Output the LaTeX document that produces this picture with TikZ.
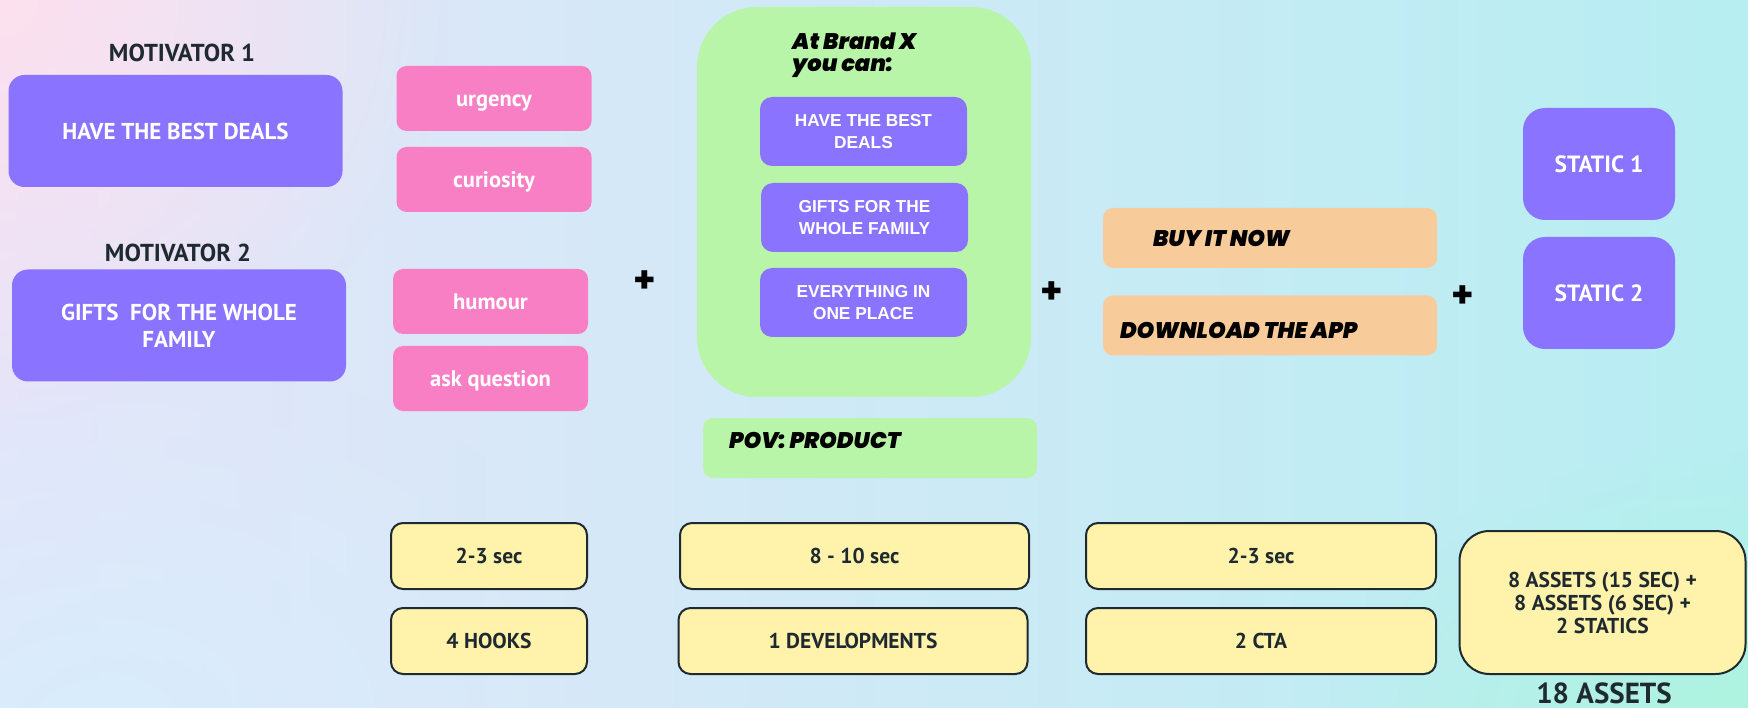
\documentclass[tikz,border=0pt]{standalone}
\usepackage{fontspec}
\usetikzlibrary{fadings}
\setmainfont{PT Sans}
\newfontfamily\capsfont{Liberation Sans}
\newfontfamily\heavyfont{Poppins}[BoldItalicFont={Poppins Black Italic}]

\definecolor{motpurple}{HTML}{8A74FF}
\definecolor{hookpink}{HTML}{F97FC5}
\definecolor{devgreen}{HTML}{B9F5A8}
\definecolor{ctapeach}{HTML}{F8CB9B}
\definecolor{timeyellow}{HTML}{FFF2AA}
\definecolor{inkdark}{HTML}{1F2A30}
\definecolor{bgleft}{HTML}{E6E5FA}
\definecolor{bgmid}{HTML}{CDEEFB}
\definecolor{bgright}{HTML}{B6EEF2}
\definecolor{bgpink}{HTML}{FDE0EE}
\definecolor{bgblue}{HTML}{D8EDFC}
\definecolor{bgmint}{HTML}{ADF4DE}
\tikzfading[name=glowout, inner color=transparent!0, outer color=transparent!100]

\begin{document}
\begin{tikzpicture}[x=1pt,y=-1pt,
  lbl/.style={font=\fontsize{24.5}{28}\selectfont\bfseries, text=inkdark},
  motbox/.style={fill=motpurple, rounded corners=16pt, text=white, align=center,
    font=\fontsize{23}{27}\selectfont\bfseries, minimum width=334pt, minimum height=112pt},
  hookbox/.style={fill=hookpink, rounded corners=10pt, text=white, text height=20pt, text depth=3pt,
    font=\fontsize{22.5}{26}\selectfont\bfseries, minimum width=195pt, minimum height=65pt},
  devbox/.style={fill=motpurple, rounded corners=12pt, text=white, align=center,
    font=\capsfont\fontsize{17.3}{22}\selectfont\bfseries, minimum width=207pt, minimum height=69pt},
  ctabox/.style={fill=ctapeach, rounded corners=10pt, minimum width=334pt, minimum height=60pt},
  heavy/.style={font=\heavyfont\fontsize{22.5}{22}\selectfont\bfseries\itshape, text=black, inner sep=0pt},
  statbox/.style={fill=motpurple, rounded corners=22pt, text=white,
    font=\fontsize{23.5}{26}\selectfont\bfseries, minimum width=152pt, minimum height=112pt},
  timebox/.style={fill=timeyellow, draw=inkdark, line width=2pt, rounded corners=12pt, text=inkdark,
    align=center, font=\fontsize{21.5}{23}\selectfont\bfseries, minimum height=66pt},
  plus/.style={font=\heavyfont\fontsize{36}{36}\selectfont\bfseries, text=black, inner sep=0pt}]

% background
\useasboundingbox (0,0) rectangle (1748,708);
\shade[left color=bgleft, middle color=bgmid, right color=bgright] (0,0) rectangle (1748,708);
\fill[bgblue, path fading=glowout] (-450,350) rectangle (650,1100);
\fill[bgpink, path fading=glowout] (-450,-420) rectangle (450,420);
\fill[bgmint, path fading=glowout] (1300,450) rectangle (2200,1000);

% motivators
\node[lbl] (mot1) at (182,53) {MOTIVATOR 1};
\node[motbox] (deals) at (175.5,131) {HAVE THE BEST DEALS};
\node[lbl] (mot2) at (178,253) {MOTIVATOR 2};
\node[motbox] (gifts) at (179,325.5) {GIFTS\ \ FOR THE WHOLE\\FAMILY};

% hooks
\node[hookbox] (urgency) at (494,98.5) {urgency};
\node[hookbox] (curiosity) at (494,179.5) {curiosity};
\node[hookbox] (humour) at (490.5,301.5) {humour};
\node[hookbox] (question) at (490.5,378.5) {ask question};
\node[plus] (plusa) at (645,282) {+};

% development
\node[fill=devgreen, rounded corners=60pt, minimum width=334pt, minimum height=390pt] (dev) at (864,202) {};
\node[heavy, anchor=north west, align=left] (brand) at (792,33) {At Brand X\\you can:};
\node[devbox] (deva) at (863.5,131.5) {HAVE THE BEST\\DEALS};
\node[devbox] (devb) at (864.5,217.5) {GIFTS FOR THE\\WHOLE FAMILY};
\node[devbox] (devc) at (863.5,302.5) {EVERYTHING IN\\ONE PLACE};
\node[fill=devgreen, rounded corners=10pt, minimum width=334pt, minimum height=60pt] (pov) at (870,448) {};
\node[heavy, anchor=west] (povtext) at ([xshift=26pt, yshift=8pt]pov.west) {POV: PRODUCT};
\node[plus] (plusb) at (1052,293) {+};

% call to action
\node[ctabox] (buy) at (1270,238) {};
\node[heavy, anchor=west] (buytext) at ([xshift=50pt]buy.west) {BUY IT NOW};
\node[ctabox] (app) at (1270,325.5) {};
\node[heavy, anchor=west] (apptext) at ([xshift=17pt, yshift=-5pt]app.west) {DOWNLOAD THE APP};
\node[plus] (plusc) at (1463,297) {+};

% statics
\node[statbox] (static1) at (1599,164) {STATIC 1};
\node[statbox] (static2) at (1599,293) {STATIC 2};

% timings
\node[timebox, minimum width=196pt] (hooksec) at (489,556) {2-3 sec};
\node[timebox, minimum width=196pt] (hooks) at (489,641) {4 HOOKS};
\node[timebox, minimum width=349pt] (devsec) at (854.5,556) {8 - 10 sec};
\node[timebox, minimum width=349pt] (devs) at (853,641) {1 DEVELOPMENTS};
\node[timebox, minimum width=350pt] (ctasec) at (1261,556) {2-3 sec};
\node[timebox, minimum width=350pt] (ctas) at (1261,641) {2 CTA};
\node[timebox, rounded corners=30pt, minimum width=286pt, minimum height=143pt] (sum) at (1602.5,602.5)
  {8 ASSETS (15 SEC) +\\8 ASSETS (6 SEC) +\\2 STATICS};
\node[lbl, font=\fontsize{29}{30}\selectfont\bfseries] (total) at (1604,693) {18 ASSETS};
\end{tikzpicture}
\end{document}
